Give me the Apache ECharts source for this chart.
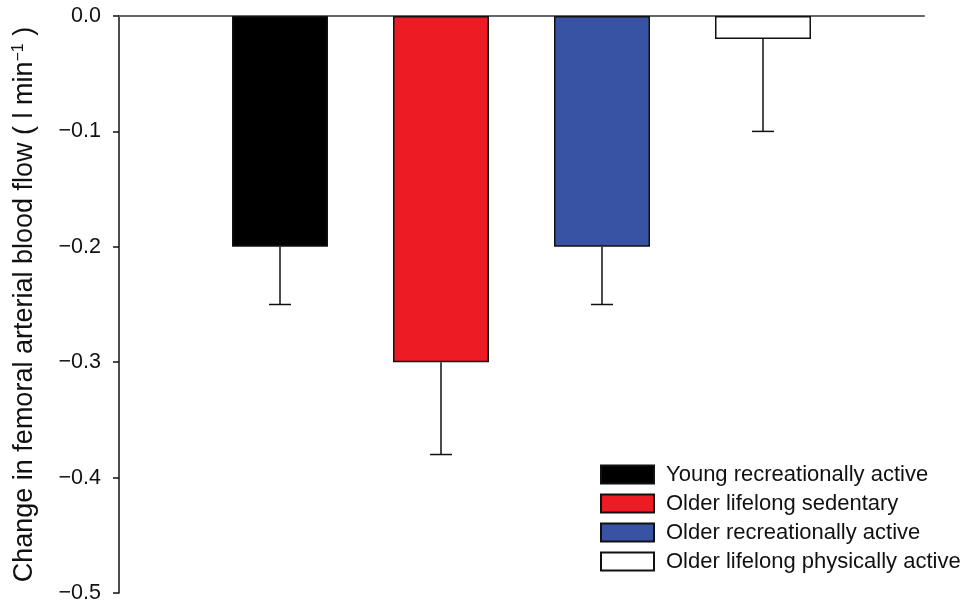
<!DOCTYPE html>
<html>
<head>
<meta charset="utf-8">
<script src="https://cdn.jsdelivr.net/npm/echarts@6/dist/echarts.min.js"></script>
<style>
  html, body { margin: 0; padding: 0; background: #fff; }
  #chart { width: 968px; height: 604px; }
</style>
</head>
<body>
<div id="chart"></div>
<script>
// Groups, mean change in femoral arterial blood flow and SEM (l/min)
const groups = [
  'Young recreationally active',
  'Older lifelong sedentary',
  'Older recreationally active',
  'Older lifelong physically active'
];
const meanChange = [-0.20, -0.30, -0.20, -0.02];
const semChange = [0.05, 0.08, 0.05, 0.08];
const groupColors = ['#000000', '#ED1C24', '#3953A4', '#FFFFFF'];
const yTicks = { min: -0.5, max: 0, step: 0.1 };

const FONT = 'Liberation Sans, Arial, sans-serif';

// each group sits at x = 1..4 on a 0..5 value axis
const barSeries = groups.map((name, i) => ({
  name: name,
  type: 'bar',
  barWidth: 96,
  barGap: '-100%',
  itemStyle: { color: groupColors[i], borderColor: '#111', borderWidth: 1.5 },
  data: [[i + 1, meanChange[i]]],
  z: 2
}));

const errorSeries = {
  type: 'custom',
  silent: true,
  z: 3,
  data: meanChange.map((m, i) => [i + 1, m, m - semChange[i]]),
  renderItem: function (params, api) {
    const top = api.coord([api.value(0), api.value(1)]);
    const bot = api.coord([api.value(0), api.value(2)]);
    const half = 11;
    const style = { stroke: '#111', lineWidth: 1.5 };
    return {
      type: 'group',
      children: [
        { type: 'line', shape: { x1: top[0], y1: top[1], x2: bot[0], y2: bot[1] }, style: style },
        { type: 'line', shape: { x1: bot[0] - half, y1: bot[1], x2: bot[0] + half, y2: bot[1] }, style: style }
      ]
    };
  }
};

const chart = echarts.init(document.getElementById('chart'));
chart.setOption({
  animation: false,
  backgroundColor: '#fff',
  textStyle: { fontFamily: FONT },
  grid: { left: 119, right: 44, top: 16, bottom: 10 },
  legend: {
    orient: 'vertical',
    left: 595,
    top: 457,
    icon: 'rect',
    itemWidth: 53,
    itemHeight: 18,
    itemGap: 4,
    selectedMode: false,
    textStyle: { fontSize: 22, lineHeight: 25, color: '#111', fontFamily: FONT, padding: [0, 0, 0, 7] },
    data: groups
  },
  xAxis: {
    type: 'value',
    min: 0,
    max: 5,
    axisLine: { onZero: true, lineStyle: { color: '#666', width: 2 } },
    axisTick: { show: false },
    axisLabel: { show: false },
    splitLine: { show: false }
  },
  yAxis: {
    type: 'value',
    min: yTicks.min,
    max: yTicks.max,
    interval: yTicks.step,
    name: '{t|Change in femoral arterial blood flow ( l min}{s|−1}{t| )}',
    nameLocation: 'middle',
    nameGap: 80,
    nameTextStyle: {
      rich: {
        t: { fontSize: 27, color: '#111', fontFamily: FONT },
        s: { fontSize: 16, color: '#111', fontFamily: FONT, verticalAlign: 'top', padding: [0, 0, 12, 0] }
      }
    },
    axisLine: { show: true, lineStyle: { color: '#111', width: 1.5 } },
    axisTick: { show: true, length: 6, lineStyle: { color: '#111', width: 1.5 } },
    axisLabel: {
      fontSize: 21.5,
      color: '#111',
      fontFamily: FONT,
      margin: 18,
      formatter: v => v.toFixed(1).replace('-', '−')
    },
    splitLine: { show: false }
  },
  series: barSeries.concat([errorSeries])
});
</script>
</body>
</html>
